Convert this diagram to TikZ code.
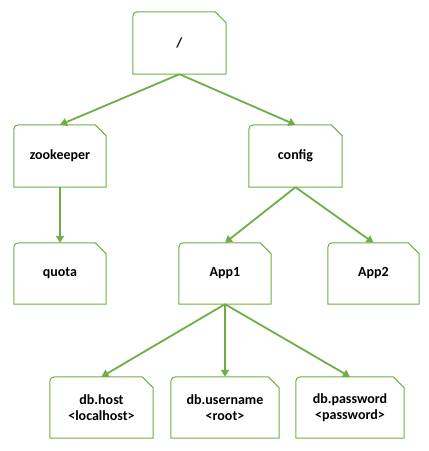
\documentclass[tikz,border=0pt]{standalone}
\usepackage{fontspec}
\setmainfont{Carlito}
\usetikzlibrary{arrows.meta}
\definecolor{grn}{HTML}{70AD47}
\tikzset{
  nd/.style={minimum width=#1, minimum height=61pt, inner sep=0pt, align=center,
    font=\fontsize{14pt}{16pt}\selectfont\bfseries},
  outline/.style={draw=grn, line width=1pt, line join=miter},
  conn/.style={draw=grn, line width=1.8pt, -{Triangle[length=7pt,width=8pt]}, shorten >=0pt}
}
\newcommand\snipoutline[1]{%
  \draw[outline] ([xshift=-11pt]#1.north east) -- ([xshift=10pt]#1.north west)
    .. controls (#1.north west) .. ([yshift=-10pt]#1.north west)
    -- (#1.south west) -- (#1.south east) -- ([yshift=-11pt]#1.north east) -- cycle;}
\begin{document}
\begin{tikzpicture}[x=1pt,y=-1pt]
\useasboundingbox (0,0) rectangle (429,451);
\node[nd=93pt, minimum height=62pt] (root) at (179.5,43) {/};
\node[nd=92pt, minimum height=62pt] (zk) at (60,156) {zookeeper};
\node[nd=93pt, minimum height=62pt] (cfg) at (295.5,156) {config};
\node[nd=92pt] (quota) at (60,273.5) {quota};
\node[nd=92pt] (app1) at (225,273.5) {App1};
\node[nd=91pt] (app2) at (373.5,273.5) {App2};
\node[nd=103pt] (host) at (101.5,407.5) {db.host\\\textless localhost\textgreater};
\node[nd=108pt] (user) at (225,407.5) {db.username\\\textless root\textgreater};
\node[nd=108pt] (pass) at (350,407.5) {db.password\\\textless password\textgreater};
\foreach \n in {root,zk,cfg,quota,app1,app2,host,user,pass}{\snipoutline{\n}}
\draw[conn] (root.south) -- (zk.north);
\draw[conn] (root.south) -- (cfg.north);
\draw[conn] (zk.south) -- (quota.north);
\draw[conn] (cfg.south) -- (app1.north);
\draw[conn] (cfg.south) -- (app2.north);
\draw[conn] (app1.south) -- (host.north);
\draw[conn] (app1.south) -- (user.north);
\draw[conn] (app1.south) -- (pass.north);
\end{tikzpicture}
\end{document}
